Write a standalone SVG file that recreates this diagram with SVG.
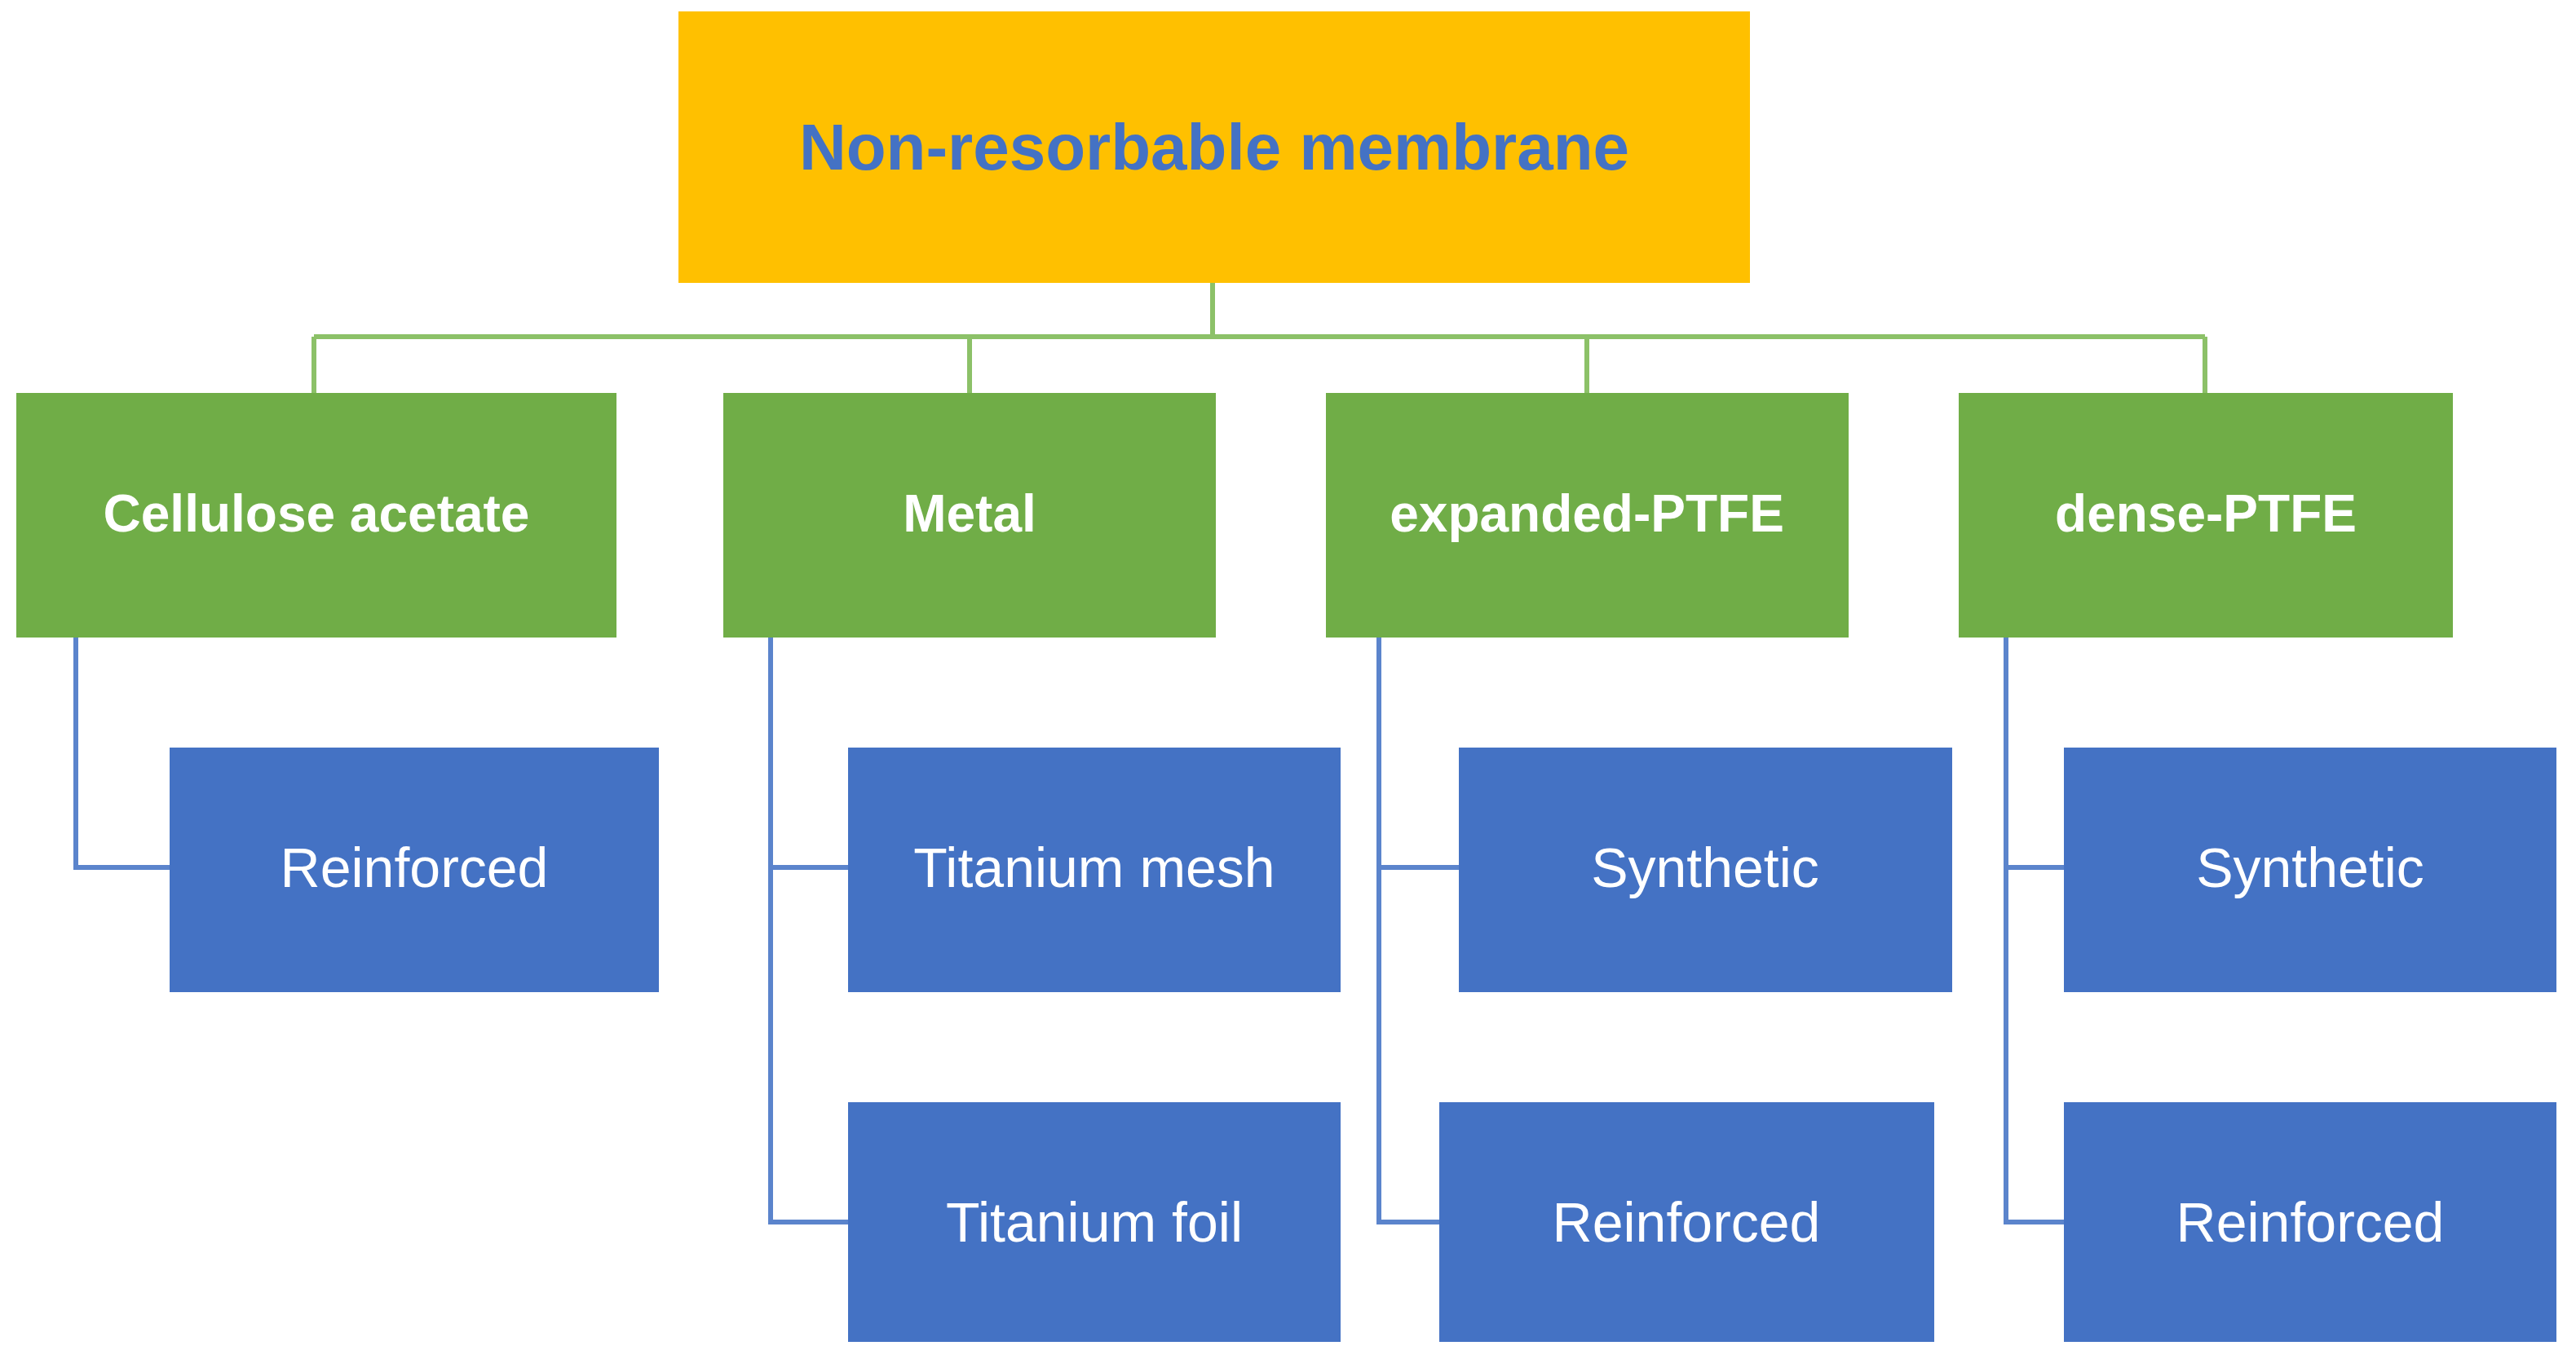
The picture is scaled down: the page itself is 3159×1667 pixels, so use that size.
<svg xmlns="http://www.w3.org/2000/svg" width="3159" height="1667" viewBox="0 0 3159 1667">
<style>
.g{fill:#70AD47}.b{fill:#4472C4}
.tg{font-family:"Liberation Sans",Arial,sans-serif;font-weight:bold;font-size:64px;fill:#fff;text-anchor:middle;dominant-baseline:central}
.tb{font-family:"Liberation Sans",Arial,sans-serif;font-size:68px;fill:#fff;text-anchor:middle;dominant-baseline:central}
.cg{stroke:#8CC168;stroke-width:6;fill:none}
.cb{stroke:#5B84CC;stroke-width:6;fill:none}
</style>
<rect width="3159" height="1667" fill="#fff"/>
<g id="connectors">
<path class="cg" d="M1487 347V413M385 413H2704M385 413V482M1189 413V482M1946 413V482M2704 413V482"/>
<path class="cb" d="M93 782V1064H208M945 782V1499H1040M945 1064H1040M1691 782V1499H1765M1691 1064H1789M2460 782V1499H2531M2460 1064H2531"/>
</g>
<g id="root"><rect x="832" y="14" width="1314" height="333" fill="#FFC000"/><text x="1489" y="180" font-family="Liberation Sans,Arial,sans-serif" font-weight="bold" font-size="80" fill="#4472C4" text-anchor="middle" dominant-baseline="central">Non-resorbable membrane</text></g>
<g id="cellulose"><rect class="g" x="20" y="482" width="736" height="300"/><text class="tg" x="388" y="630">Cellulose acetate</text></g>
<g id="metal"><rect class="g" x="887" y="482" width="604" height="300"/><text class="tg" x="1189" y="630">Metal</text></g>
<g id="eptfe"><rect class="g" x="1626" y="482" width="641" height="300"/><text class="tg" x="1946" y="630">expanded-PTFE</text></g>
<g id="dptfe"><rect class="g" x="2402" y="482" width="606" height="300"/><text class="tg" x="2705" y="630">dense-PTFE</text></g>
<g id="ca-reinf"><rect class="b" x="208" y="917" width="600" height="300"/><text class="tb" x="508" y="1064">Reinforced</text></g>
<g id="ti-mesh"><rect class="b" x="1040" y="917" width="604" height="300"/><text class="tb" x="1342" y="1064">Titanium mesh</text></g>
<g id="ti-foil"><rect class="b" x="1040" y="1352" width="604" height="294"/><text class="tb" x="1342" y="1499">Titanium foil</text></g>
<g id="e-syn"><rect class="b" x="1789" y="917" width="605" height="300"/><text class="tb" x="2091" y="1064">Synthetic</text></g>
<g id="e-reinf"><rect class="b" x="1765" y="1352" width="607" height="294"/><text class="tb" x="2068" y="1499">Reinforced</text></g>
<g id="d-syn"><rect class="b" x="2531" y="917" width="604" height="300"/><text class="tb" x="2833" y="1064">Synthetic</text></g>
<g id="d-reinf"><rect class="b" x="2531" y="1352" width="604" height="294"/><text class="tb" x="2833" y="1499">Reinforced</text></g>
</svg>
